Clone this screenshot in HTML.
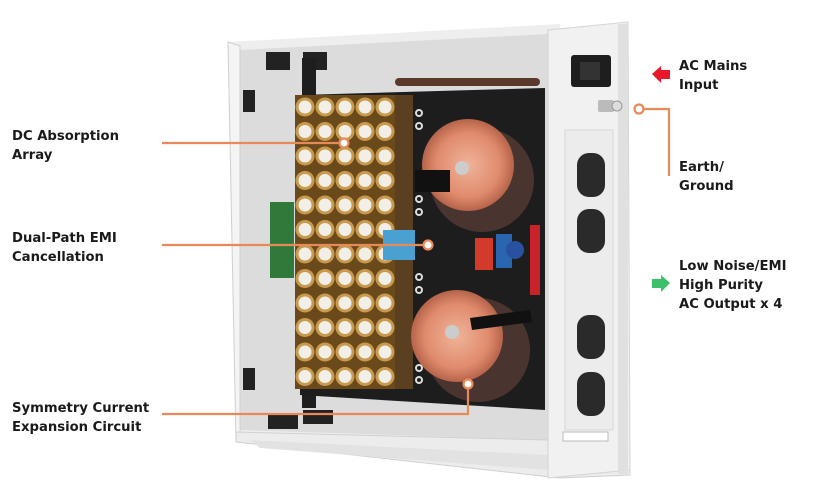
<!DOCTYPE html>
<html><head><meta charset="utf-8"><style>
html,body{margin:0;padding:0;background:#fff;width:827px;height:499px;overflow:hidden}
svg{display:block}
text{font-family:"DejaVu Sans","Liberation Sans",sans-serif;font-weight:bold;font-size:13.2px;fill:#1a1a1a}
</style></head><body>
<svg width="827" height="499" viewBox="0 0 827 499">
<defs>
<pattern id="cap" x="295" y="95" width="20" height="24.5" patternUnits="userSpaceOnUse">
<rect width="20" height="24.5" fill="#6a4a1a"/>
<circle cx="10" cy="12" r="9.5" fill="#c99a4e"/>
<circle cx="10" cy="12" r="6.5" fill="#f2efe8"/>
</pattern>
<radialGradient id="tor" cx="0.5" cy="0.5" r="0.5">
<stop offset="0" stop-color="#f0b49a"/><stop offset="0.7" stop-color="#e08a6c"/><stop offset="1" stop-color="#b5644a"/>
</radialGradient>
</defs>
<polygon points="228,42 560,24 560,475 236,442" fill="#eeeeee"/>
<polygon points="240,50 548,34 548,440 240,430" fill="#dcdcdc"/>
<polygon points="228,42 240,46 240,432 236,442" fill="#f4f4f4" stroke="#cfcfcf" stroke-width="1"/>
<polygon points="236,432 548,440 630,450 630,475 560,478 236,442" fill="#ececec" stroke="#d0d0d0"/>
<polygon points="250,440 548,455 548,470 260,448" fill="#e2e2e2"/>
<polygon points="548,30 628,22 630,470 548,478" fill="#f1f1f1" stroke="#d4d4d4"/>
<rect x="618" y="24" width="10" height="450" fill="#e0e0e0"/>
<rect x="571" y="55" width="40" height="32" rx="3" fill="#1e1e1e"/>
<rect x="580" y="62" width="20" height="18" fill="#333"/>
<rect x="598" y="100" width="16" height="12" rx="2" fill="#bbb"/>
<circle cx="617" cy="106" r="5" fill="#ddd" stroke="#999"/>
<rect x="565" y="130" width="48" height="300" fill="#ececec" stroke="#d8d8d8"/>
<g fill="#2a2a2a">
<rect x="577" y="153" width="28" height="44" rx="12"/>
<rect x="577" y="209" width="28" height="44" rx="12"/>
<rect x="577" y="315" width="28" height="44" rx="12"/>
<rect x="577" y="372" width="28" height="44" rx="12"/>
</g>
<rect x="563" y="432" width="45" height="9" fill="#fff" stroke="#bbb"/>
<rect x="243" y="90" width="12" height="22" fill="#222"/>
<rect x="243" y="368" width="12" height="22" fill="#222"/>
<rect x="266" y="52" width="24" height="18" fill="#222"/>
<rect x="303" y="52" width="24" height="18" fill="#222"/>
<rect x="302" y="58" width="14" height="350" fill="#1e1e1e"/>
<rect x="268" y="415" width="30" height="14" fill="#222"/>
<rect x="303" y="410" width="30" height="14" fill="#222"/>
<polygon points="300,95 545,88 545,410 300,395" fill="#1d1d1d"/>
<rect x="395" y="78" width="145" height="8" rx="4" fill="#5a3a2a"/>
<rect x="295" y="95" width="100" height="294" fill="url(#cap)"/>
<rect x="395" y="95" width="18" height="294" fill="#5a4020"/>
<rect x="270" y="202" width="24" height="76" fill="#2f7a3a"/>
<circle cx="482" cy="180" r="52" fill="#4a3430"/>
<circle cx="468" cy="165" r="46" fill="url(#tor)"/>
<circle cx="462" cy="168" r="7" fill="#ccc"/>
<rect x="415" y="170" width="35" height="22" fill="#111"/>
<circle cx="478" cy="350" r="52" fill="#4a3430"/>
<circle cx="457" cy="336" r="46" fill="url(#tor)"/>
<circle cx="452" cy="332" r="7" fill="#ccc"/>
<polygon points="470,318 530,310 532,322 472,330" fill="#111"/>
<rect x="383" y="230" width="32" height="30" fill="#4aa0d0"/>
<rect x="475" y="238" width="18" height="32" fill="#d23a2a"/>
<rect x="496" y="234" width="16" height="34" fill="#2a66b0"/>
<circle cx="515" cy="250" r="9" fill="#2a50a0"/>
<rect x="530" y="225" width="10" height="70" fill="#c8222a"/>
<g fill="none" stroke="#ddd" stroke-width="2">
<circle cx="419" cy="113" r="3"/><circle cx="419" cy="126" r="3"/>
<circle cx="419" cy="199" r="3"/><circle cx="419" cy="212" r="3"/>
<circle cx="419" cy="277" r="3"/><circle cx="419" cy="290" r="3"/>
<circle cx="419" cy="368" r="3"/><circle cx="419" cy="380" r="3"/>
</g>
<g stroke="#e8895a" stroke-width="2.2" fill="none">
<polyline points="162,143 340,143"/>
<circle cx="344" cy="143" r="4.5" fill="#fff"/>
<polyline points="162,245 424,245"/>
<circle cx="428" cy="245" r="4.5" fill="#fff"/>
<polyline points="162,414 468,414 468,388"/>
<circle cx="468" cy="384" r="4.5" fill="#fff"/>
<polyline points="644,109 669,109 669,176"/>
<circle cx="639" cy="109" r="4.5" fill="#fff"/>
</g>
<polygon points="652,74 661,66 661,70 670,70 670,79 661,79 661,83" fill="#e8182a"/>
<polygon points="670,283 661,275 661,279 652,279 652,288 661,288 661,292" fill="#3cc06a"/>
<text x="12" y="140">DC Absorption</text>
<text x="12" y="159">Array</text>
<text x="12" y="242">Dual-Path EMI</text>
<text x="12" y="261">Cancellation</text>
<text x="12" y="412">Symmetry Current</text>
<text x="12" y="431">Expansion Circuit</text>
<text x="679" y="70">AC Mains</text>
<text x="679" y="89">Input</text>
<text x="679" y="171">Earth/</text>
<text x="679" y="190">Ground</text>
<text x="679" y="270">Low Noise/EMI</text>
<text x="679" y="289">High Purity</text>
<text x="679" y="308">AC Output x 4</text>
</svg>
</body></html>
